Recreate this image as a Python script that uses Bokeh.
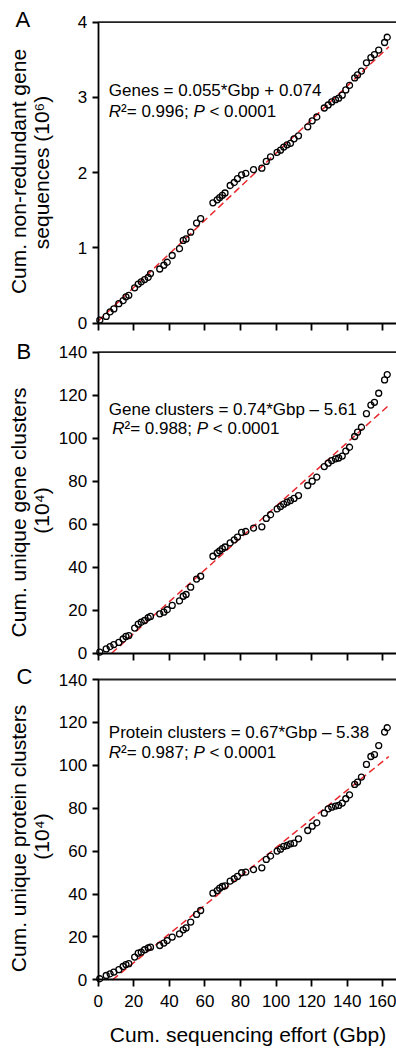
import math
from bokeh.plotting import figure
from bokeh.models import Label, FixedTicker, Range1d
from bokeh.layouts import column
from bokeh.embed import file_html
from bokeh.resources import INLINE

# ---------------- data ----------------
gbp = [0.9, 4.5, 6.7, 8.8, 11.6, 14.0, 15.6, 17.2, 20.5, 22.5,
       24.2, 26.1, 28.1, 29.4, 34.6, 36.9, 38.8, 41.6, 45.7, 47.8,
       49.4, 52.0, 55.3, 57.6, 64.5, 66.9, 68.3, 69.8, 71.3, 74.2,
       76.5, 78.3, 80.6, 83.0, 87.3, 92.0, 94.5, 96.9, 100.6, 102.5,
       104.3, 106.2, 108.1, 110.1, 112.6, 117.8, 120.3, 122.9, 127.1, 129.3,
       131.3, 133.4, 135.2, 137.2, 139.2, 141.3, 144.2, 145.8, 148.0, 150.8,
       153.3, 155.3, 157.7, 161.0, 162.5]

genes_A = [0.04, 0.09, 0.15, 0.19, 0.26, 0.30, 0.35, 0.37, 0.47, 0.52,
           0.55, 0.58, 0.61, 0.66, 0.72, 0.77, 0.81, 0.90, 0.99, 1.10,
           1.12, 1.21, 1.33, 1.39, 1.60, 1.64, 1.67, 1.70, 1.73, 1.83,
           1.87, 1.92, 1.97, 1.99, 2.04, 2.06, 2.15, 2.21, 2.27, 2.30,
           2.34, 2.37, 2.39, 2.45, 2.49, 2.61, 2.69, 2.74, 2.86, 2.90,
           2.94, 2.97, 2.99, 3.03, 3.10, 3.16, 3.26, 3.30, 3.35, 3.46,
           3.53, 3.57, 3.63, 3.73, 3.80]

gene_clusters_B = [0.5, 2.0, 3.1, 4.0, 5.0, 6.6, 7.8, 8.2, 11.7, 13.5,
                   14.4, 15.2, 16.5, 17.1, 18.3, 19.1, 20.2, 22.2, 24.3, 26.5,
                   27.3, 30.7, 34.5, 35.8, 45.1, 46.6, 47.6, 48.6, 49.4, 51.3,
                   52.7, 54.0, 56.2, 56.6, 58.2, 58.8, 62.7, 64.4, 67.1, 68.2,
                   69.3, 70.2, 71.0, 72.0, 73.3, 78.0, 80.0, 81.9, 86.8, 88.4,
                   89.6, 90.4, 90.8, 91.7, 94.0, 95.8, 100.8, 102.8, 105.1, 111.4,
                   115.4, 116.7, 120.9, 127.1, 129.6]

protein_clusters_C = [0.5, 2.0, 2.8, 3.6, 4.7, 6.2, 7.1, 7.5, 10.6, 12.4,
                      12.9, 14.0, 14.9, 15.2, 16.0, 17.1, 18.3, 19.9, 21.4, 23.3,
                      24.2, 26.9, 30.5, 32.3, 40.4, 41.6, 42.7, 43.5, 43.8, 46.0,
                      47.1, 48.2, 49.9, 50.2, 51.4, 52.2, 56.1, 57.7, 60.0, 60.9,
                      62.2, 62.6, 63.4, 63.7, 65.7, 69.6, 71.6, 73.2, 77.7, 79.7,
                      80.5, 81.0, 81.3, 82.4, 84.4, 86.2, 91.1, 92.2, 94.5, 100.4,
                      104.1, 105.0, 109.2, 115.5, 117.5]

x_ticks = [0, 20, 40, 60, 80, 100, 120, 140, 160]
ticks_A = [0, 1, 2, 3, 4]
ticks_BC = [0, 20, 40, 60, 80, 100, 120, 140]

# dashed regression lines: (slope, intercept, x start, x end)
fit_A = (0.0223, 0.03, 0.0, 163.4)
fit_B = (0.74, -5.61, 5.61 / 0.74, 163.4)
fit_C = (0.67, -5.38, 5.38 / 0.67, 163.4)

eq_A = "Genes = 0.055*Gbp + 0.074"
eq_B = "Gene clusters = 0.74*Gbp \u2013 5.61"
eq_C = "Protein clusters = 0.67*Gbp \u2013 5.38"
stat_A = ("0.996", "0.0001")
stat_B = ("0.988", "0.0001")
stat_C = ("0.987", "0.0001")

ylab_A = ["Cum. non-redundant gene", "sequences (10\u2076)"]
ylab_B = ["Cum. unique gene clusters", "(10\u2074)"]
ylab_C = ["Cum. unique protein clusters", "(10\u2074)"]
xlab = "Cum. sequencing effort (Gbp)"

# ---------------- styling / geometry (page pixels) ----------------
FONT = "Liberation Sans"
FIG_W = 396
LEFT = 97.7                 # page x of Gbp = 0
SX = (382.3 - 97.7) / 160   # px per Gbp
X_LO = -LEFT / SX
X_HI = (FIG_W - LEFT) / SX
MID = 0.35                  # baseline -> "middle" anchor, in em

AW = {'R': 722, 'P': 667, '\u00b2': 333, '=': 584, ' ': 278, '.': 278,
      ';': 278, '<': 584}
for d in "0123456789":
    AW[d] = 556


def tw(s, size):
    return sum(AW.get(c, 556) for c in s) / 1000.0 * size


def px2x(px):
    return (px - LEFT) / SX


def make_panel(page_top, page_bottom, top_px, zero_px, yend, yticks, show_xlabels):
    """page_top/bottom: canvas extent; top_px/zero_px: page y of yend and 0."""
    k = (zero_px - top_px) / yend
    y_hi = yend + (top_px - page_top) / k
    y_lo = -(page_bottom - zero_px) / k
    p = figure(width=FIG_W, height=page_bottom - page_top,
               x_range=Range1d(X_LO, X_HI), y_range=Range1d(y_lo, y_hi),
               output_backend="svg", toolbar_location=None,
               min_border_left=0, min_border_right=0,
               min_border_top=0, min_border_bottom=0)
    p.outline_line_color = None
    p.grid.visible = False
    p.background_fill_color = "white"
    p.border_fill_color = "white"
    xa, ya = p.xaxis[0], p.yaxis[0]
    for ax in (xa, ya):
        ax.fixed_location = 0
        ax.axis_line_width = 1.8
        ax.axis_line_color = "black"
        ax.major_tick_line_width = 1.8
        ax.major_tick_line_color = "black"
        ax.major_tick_in = 0
        ax.minor_tick_in = 0
        ax.minor_tick_out = 0
        ax.major_label_text_font = FONT
        ax.major_label_text_font_size = "17px"
        ax.major_label_text_color = "black"
    ya.bounds = (0, yend)
    ya.ticker = FixedTicker(ticks=yticks)
    ya.major_tick_out = 6
    ya.major_label_standoff = 5
    xa.bounds = (0, X_HI)
    xa.ticker = FixedTicker(ticks=x_ticks)
    xa.major_tick_out = 7
    if show_xlabels:
        xa.major_label_standoff = 8
    else:
        xa.major_label_text_font_size = "1px"
        xa.major_label_text_color = None
        xa.major_label_standoff = 0
    # top border of the plotting box
    p.segment(x0=[0], y0=[yend], x1=[X_HI], y1=[yend], line_color="#222222",
              line_width=1.8)

    def py2y(py):
        return (zero_px - py) / k

    return p, py2y


def add_label(p, px, base_py, text, size, yconv, style="normal", rotated=False,
              align="left", x_offset=0.0):
    """px/base_py: page position of the text start (or centre) and its baseline."""
    if rotated:
        x = px2x(px - MID * size)
        y = yconv(base_py)
        angle = math.pi / 2
    else:
        x = px2x(px)
        y = yconv(base_py - MID * size)
        angle = 0.0
    p.add_layout(Label(x=x, y=y, text=text, x_offset=x_offset,
                       text_font=FONT, text_font_size=f"{size}px",
                       text_font_style=style, text_align=align,
                       text_baseline="middle", angle=angle, text_color="black"))


def stats_line(p, px, base_py, r2, pval, size, yconv):
    segs = [("R", "italic"), ("\u00b2= " + r2 + "; ", "normal"),
            ("P", "italic"), (" < " + pval, "normal")]
    off = 0.0
    for text, style in segs:
        lead = len(text) - len(text.lstrip(' '))
        s = text.strip(' ')
        if s:
            add_label(p, px, base_py, s, size, yconv, style=style,
                      x_offset=off + tw(' ' * lead, size))
        off += tw(text, size)


def draw(p, ys, fit):
    slope, icpt, x0, x1 = fit
    fx = [x0, x1]
    fy = [slope * v + icpt for v in fx]
    p.line(fx, fy, line_color="#e8262b", line_width=1.5, line_dash="7 4")
    p.scatter(gbp, ys, marker="circle", size=6, fill_color=None,
              line_color="black", line_width=1.3)


# ---------------- Panel A (page y 0..334) ----------------
pA, yA = make_panel(0, 334, 21.7, 322.7, 4, ticks_A, False)
draw(pA, genes_A, fit_A)
add_label(pA, 108.3, 96, eq_A, 17, yA)
stats_line(pA, 108.3, 117, stat_A[0], stat_A[1], 17, yA)
add_label(pA, 15, 27, "A", 22, yA)
add_label(pA, 25, 171, ylab_A[0], 21, yA, rotated=True, align="center")
add_label(pA, 48.5, 172, ylab_A[1], 21, yA, rotated=True, align="center")

# ---------------- Panel B (page y 334..663) ----------------
pB, yB = make_panel(334, 663, 351.7, 652.7, 140, ticks_BC, False)
draw(pB, gene_clusters_B, fit_B)
add_label(pB, 108.3, 415, eq_B, 17, yB)
stats_line(pB, 111.7, 434, stat_B[0], stat_B[1], 17, yB)
add_label(pB, 16, 358.5, "B", 22, yB)
add_label(pB, 25, 512, ylab_B[0], 21, yB, rotated=True, align="center")
add_label(pB, 48.5, 510, ylab_B[1], 21, yB, rotated=True, align="center")

# ---------------- Panel C (page y 663..1049) ----------------
pC, yC = make_panel(663, 1049, 679, 979.3, 140, ticks_BC, True)
draw(pC, protein_clusters_C, fit_C)
add_label(pC, 108.3, 737.5, eq_C, 17, yC)
stats_line(pC, 108.3, 757.5, stat_C[0], stat_C[1], 17, yC)
add_label(pC, 16, 683.5, "C", 22, yC)
add_label(pC, 25, 838, ylab_C[0], 21, yC, rotated=True, align="center")
add_label(pC, 48.5, 836, ylab_C[1], 21, yC, rotated=True, align="center")
add_label(pC, 247.5, 1041.5, xlab, 21, yC, align="center")

layout = column(pA, pB, pC, spacing=0)
open("out.html", "w").write(file_html(layout, INLINE))
